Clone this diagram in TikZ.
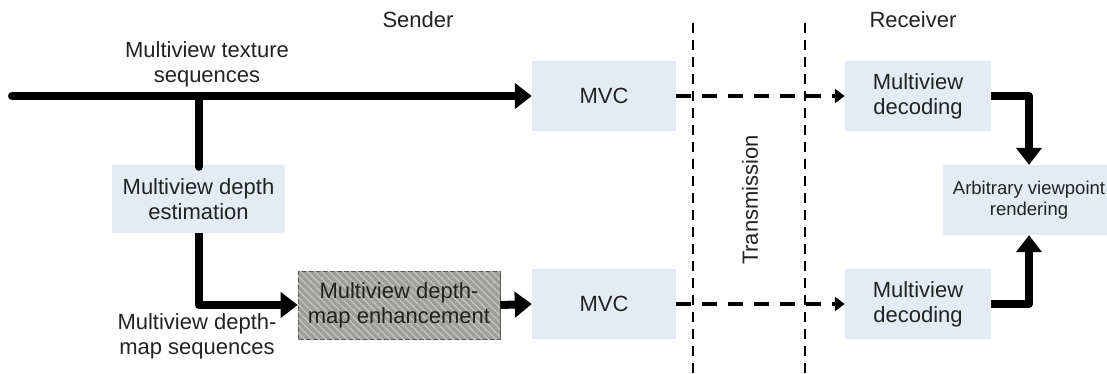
\documentclass[tikz,border=0pt]{standalone}
\usepackage{fontspec}
\setmainfont{Liberation Sans}
\usetikzlibrary{arrows.meta,patterns.meta}
\definecolor{boxfill}{HTML}{E4EBF5}
\definecolor{txt}{HTML}{222222}
\definecolor{hatchbg}{HTML}{9E9E9A}
\definecolor{hatchln}{HTML}{C4C4C0}
\tikzset{
  lbl/.style={text=txt, font=\fontsize{22}{25}\selectfont, align=center, inner sep=0pt},
  blk/.style={fill=boxfill, draw=none, text=txt, font=\fontsize{22}{25}\selectfont, align=center, inner sep=0pt},
  hatchblk/.style={fill=hatchbg, draw=gray!70!black, line width=0.6pt, text=txt,
     font=\fontsize{22}{25}\selectfont, align=center, inner sep=0pt,
     postaction={pattern={Lines[angle=-45,distance=5pt,line width=1.3pt]}, pattern color=hatchln}},
  thick arrow/.style={line width=8pt, line join=round, -{Triangle[length=17pt,width=25pt]}},
  thick line/.style={line width=8pt, line cap=round},
  dash arrow/.style={line width=4pt, dash pattern=on 15pt off 11pt, -{Triangle[length=10pt,width=14pt]}},
  sep line/.style={line width=1.5pt, dash pattern=on 10pt off 7pt},
}
\begin{document}
\begin{tikzpicture}[x=1pt,y=-1pt]
\useasboundingbox (0,0) rectangle (1107,374);
% labels
\node[lbl] (sender) at (418,20) {Sender};
\node[lbl] (receiver) at (913,20) {Receiver};
\node[lbl] (texlbl) at (207,64) {Multiview texture\\sequences};
\node[lbl] (deplbl) at (197,336) {Multiview depth-\\map sequences};
% boxes
\node[blk, minimum width=173pt, minimum height=68pt] (est) at (198.5,199) {Multiview depth\\estimation};
\node[hatchblk, minimum width=202pt, minimum height=68pt] (enh) at (399,305) {Multiview depth-\\map enhancement};
\node[blk, minimum width=144pt, minimum height=70pt] (mvc1) at (604,96) {MVC};
\node[blk, minimum width=144pt, minimum height=70pt] (mvc2) at (604,304) {MVC};
\node[blk, minimum width=146pt, minimum height=70pt] (dec1) at (918,96) {Multiview\\decoding};
\node[blk, minimum width=146pt, minimum height=70pt] (dec2) at (918,304) {Multiview\\decoding};
\node[blk, minimum width=172pt, minimum height=70pt, font=\fontsize{18.5}{21}\selectfont] (render) at (1029,200) {Arbitrary viewpoint\\rendering};
\node[lbl, rotate=90] (trans) at (750,200) {Transmission};
% separator lines
\coordinate (s1t) at (693,23); \coordinate (s1b) at (693,374);
\coordinate (s2t) at (805,23); \coordinate (s2b) at (805,374);
\draw[sep line] (s1t) -- (s1b);
\draw[sep line] (s2t) -- (s2b);
% connectors
\coordinate (start) at (12,96);
\coordinate (j1) at (198.5,96);
\draw[thick line] (start) -- (j1);
\draw[thick arrow] (j1) -- (mvc1.west);
\draw[thick line] (j1) -- ([yshift=-2pt]est.north);
\draw[thick arrow] (est.south) |- (enh.west);
\draw[thick arrow] (enh.east) -- (mvc2.west);
\draw[dash arrow] (mvc1.east) -- (dec1.west);
\draw[dash arrow] (mvc2.east) -- (dec2.west);
\draw[thick arrow] (dec1.east) -| (render.north);
\draw[thick arrow] (dec2.east) -| (render.south);
\end{tikzpicture}
\end{document}
